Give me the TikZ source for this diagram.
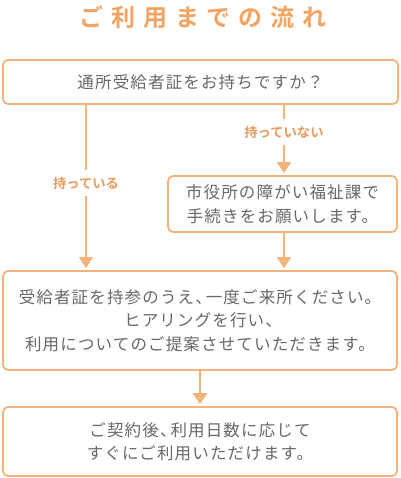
\documentclass[tikz,border=0pt]{standalone}
\usepackage{fontspec}
\usetikzlibrary{arrows.meta}
\newfontfamily\jp[LetterSpace=7]{Noto Sans CJK JP}
\newfontfamily\jpb{Noto Sans CJK JP Bold}
\newfontfamily\jpt[LetterSpace=33]{Noto Sans CJK JP Bold}
\definecolor{orb}{HTML}{F7B27A}
\definecolor{ort}{HTML}{F4A462}
\definecolor{orl}{HTML}{E99A5C}
\definecolor{txt}{HTML}{686868}
\newcommand{\hcm}{、\kern-6pt}
\tikzset{
  box/.style={draw=orb, line width=1.8pt, rounded corners=5pt, fill=white,
    align=center, text=txt, font=\jp\fontsize{16.5}{23.5}\selectfont, inner sep=0pt},
  lab/.style={text=orl, font=\jpb\fontsize{13.3}{14}\selectfont, inner sep=7pt},
  conn/.style={draw=orb, line width=1.8pt},
  arr/.style={conn, -{Triangle[width=14pt,length=11pt]}, shorten >=2pt}
}
\begin{document}
\begin{tikzpicture}[x=1pt,y=-1pt]
\useasboundingbox (0,0) rectangle (400,478);
\node[text=ort, font=\jpt\fontsize{24}{26}\selectfont] (title) at (203,17) {ご利用までの流れ};
\node[box, minimum width=395pt, minimum height=44pt] (b1) at (200.5,82) {通所受給者証をお持ちですか？};
\node[box, minimum width=229pt, minimum height=56pt] (b2) at (282.5,204) {市役所の障がい福祉課で\\手続きをお願いします。};
\node[box, minimum width=394pt, minimum height=99pt] (b3) at (200,320.5) {受給者証を持参のうえ\hcm 一度ご来所ください。\\ヒアリングを行い\hcm\\利用についてのご提案させていただきます。};
\node[box, minimum width=394pt, minimum height=69pt] (b4) at (200,441.5) {ご契約後\hcm 利用日数に応じて\\すぐにご利用いただけます。};
\node[lab] (l1) at (86,183) {持っている};
\node[lab] (l2) at (284,132) {持っていない};
\draw[conn] (l1 |- b1.south) -- (l1);
\draw[arr] (l1) -- (l1 |- b3.north);
\draw[conn] (l2 |- b1.south) -- (l2);
\draw[arr] (l2) -- (l2 |- b2.north);
\draw[arr] (l2 |- b2.south) -- (l2 |- b3.north);
\draw[arr] (b3.south) -- (b4.north);
\end{tikzpicture}
\end{document}
